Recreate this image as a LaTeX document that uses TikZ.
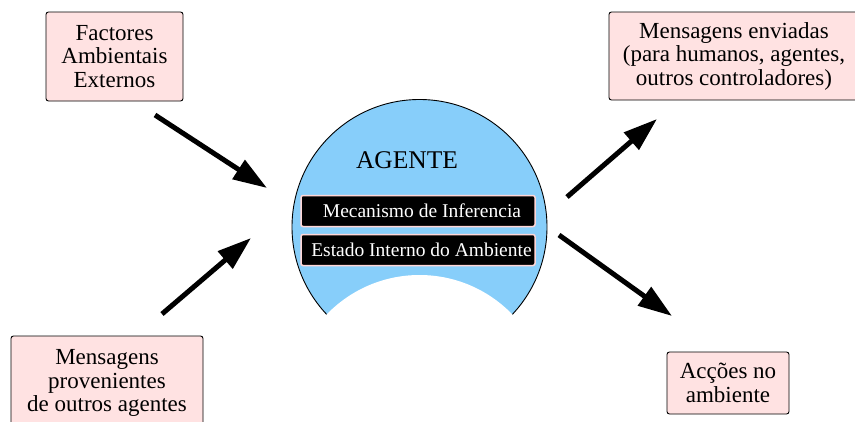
\documentclass[tikz,border=0pt]{standalone}
\usepackage{fontspec}
\setmainfont{Liberation Serif}
\usetikzlibrary{arrows.meta}

\definecolor{boxpink}{RGB}{255,226,226}
\definecolor{edgepink}{RGB}{255,214,214}
\definecolor{agentblue}{RGB}{135,206,250}

\begin{document}
\begin{tikzpicture}[x=1pt, y=-1pt,
		extbox/.style={rectangle, draw=black, line width=0.9pt, fill=boxpink, rounded corners=2.5pt, align=center, inner sep=0pt, font=\fontsize{23}{23.5}\selectfont},
		module/.style={rectangle, draw=edgepink, line width=1.5pt, fill=black, rounded corners=2pt, text=white, minimum width=234pt, minimum height=31pt, inner sep=0pt, font=\fontsize{19.5}{20}\selectfont},
		flow/.style={line width=5pt, -{Triangle[length=34pt,width=22pt]}}
]
\useasboundingbox (0,0) rectangle (855,421);

% agent body
\fill[agentblue] (419.5,227) circle[radius=127.5pt];
\draw[line width=0.9pt] (419.5,227) circle[radius=127.5pt];
\fill[white] (419.5,404) circle[radius=129pt];

\node [font=\fontsize{25.5}{26}\selectfont] (Agente) at (407,160) {AGENTE};
\node [module] (Inferencia) at (418,211) {\hspace{8pt}Mecanismo de Inferencia};
\node [module] (Estado) at (418,250) {\hspace{7pt}Estado Interno do Ambiente};

% outside boxes
\node [extbox, minimum width=137pt, minimum height=89pt] (Factores) at (114.5,56.5) {Factores\\Ambientais\\Externos};
\node [extbox, minimum width=192pt, minimum height=94pt] (Recebidas) at (107,383) {Mensagens\\provenientes\\de outros agentes};
\node [extbox, minimum width=250pt, minimum height=88pt] (Enviadas) at (734,56) {Mensagens enviadas\\(para humanos, agentes,\\outros controladores)};
\node [extbox, minimum width=122pt, minimum height=62pt] (Accoes) at (728,383) {Acções no\\ambiente};

% arrows
\coordinate (in1) at (155,115);
\coordinate (in1-end) at (267,188);
\coordinate (in2) at (162,314);
\coordinate (in2-end) at (251,238);
\coordinate (out1) at (567,197);
\coordinate (out1-end) at (657,119);
\coordinate (out2) at (559,235);
\coordinate (out2-end) at (672,316);

\draw [flow] (in1) -- (in1-end);
\draw [flow] (in2) -- (in2-end);
\draw [flow] (out1) -- (out1-end);
\draw [flow] (out2) -- (out2-end);

\end{tikzpicture}
\end{document}
